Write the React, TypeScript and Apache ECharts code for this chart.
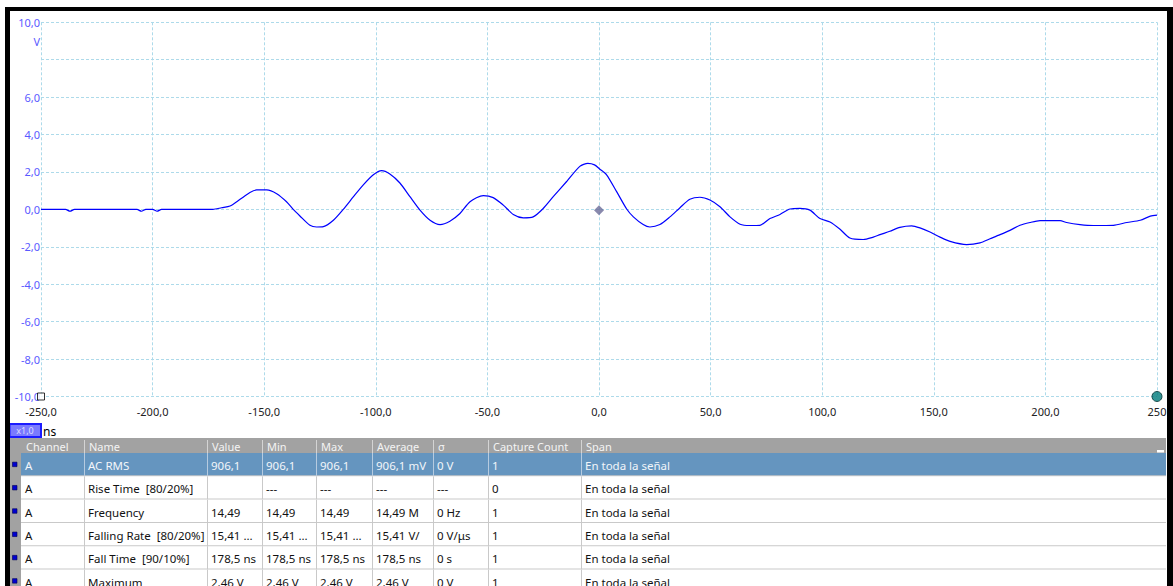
import React, { useEffect, useRef } from "react";
import * as echarts from "echarts";

// ---- waveform (time in ns, voltage in V) ----
const timeNs = [
  -250, -239, -237, -235, -207, -205, -203, -200, -198, -196, -173, -169.1, -165.3, -160.8, -156.4, -153.4,
  -148.9, -144.4, -140, -137, -134, -129.5, -126.5, -123.5, -119, -114.6, -110, -105.6, -101.1, -97.4,
  -93.7, -89.2, -84.7, -80.2, -75.7, -71.2, -66.8, -62.3, -57.8, -51.8, -47.4, -42.9, -38.4, -33.9,
  -29.5, -25, -20.5, -14.5, -8.6, -5, -2, 0.4, 3.4, 7.9, 12.4, 15.4, 19.8, 22.8, 27.3, 31.8, 36.3,
  40.7, 45.2, 49.7, 54.2, 58.7, 63.2, 67.6, 72.1, 76.6, 81.1, 85.6, 90, 94.5, 99, 103.5, 108, 112.4,
  118.4, 122.9, 125.9, 130.3, 134.8, 140.1, 143.8, 148.3, 152.8, 157.3, 164.7, 170.7, 175.2, 179.7,
  184.1, 188.6, 193.1, 197.6, 206.6, 209.5, 215.5, 221.5, 230.5, 236.5, 242.5, 247, 250,
];
const voltsV = [
  0, 0, -0.1, 0, 0, -0.1, 0, 0, -0.1, 0, 0, 0.09, 0.18, 0.54, 0.9, 1.04,
  1.04, 0.84, 0.41, 0.0, -0.35, -0.85, -0.94, -0.92, -0.58, 0.0, 0.68, 1.31, 1.85, 2.07,
  1.89, 1.41, 0.68, -0.04, -0.58, -0.81, -0.63, -0.22, 0.41, 0.74, 0.63, 0.23, -0.27, -0.45,
  -0.4, 0.05, 0.68, 1.49, 2.3, 2.46, 2.38, 2.15, 1.85, 0.95, 0.02, -0.4, -0.81, -0.94, -0.81, -0.4, 0.09,
  0.54, 0.65, 0.5, 0.14, -0.4, -0.79, -0.86, -0.85, -0.49, -0.27, 0.02, 0.05, -0.04, -0.49, -0.67, -1.06, -1.53,
  -1.61, -1.48, -1.35, -1.17, -0.96, -0.88, -0.99, -1.21, -1.48, -1.71, -1.88, -1.79, -1.57, -1.35,
  -1.12, -0.85, -0.7, -0.6, -0.6, -0.7, -0.81, -0.86, -0.85, -0.7, -0.58, -0.36, -0.31,
];
const triggerPoint = [0, -0.05];
const startMarker = [-250, -10];
const endMarker = [250, -10];

// ---- axis ticks ----
const xTickValues = [-250, -200, -150, -100, -50, 0, 50, 100, 150, 200, 250];
const xTickLabels = ["-250,0", "-200,0", "-150,0", "-100,0", "-50,0", "0,0", "50,0", "100,0", "150,0", "200,0", "250"];
const yTickValues = [-10, -8, -6, -4, -2, 0, 2, 4, 6, 8, 10];
const yTickLabels = ["-10,0", "-8,0", "-6,0", "-4,0", "-2,0", "0,0", "2,0", "4,0", "6,0", "", "10,0"];
const yUnit = "V";
const xUnit = "ns";
const zoomLabel = "x1,0";

// ---- measurement table ----
const tableColumns = ["Channel", "Name", "Value", "Min", "Max", "Average", "σ", "Capture Count", "Span"];
const rowChannel = ["A", "A", "A", "A", "A", "A"];
const rowName = ["AC RMS", "Rise Time  [80/20%]", "Frequency", "Falling Rate  [80/20%]", "Fall Time  [90/10%]", "Maximum"];
const rowValue = ["906,1", "", "14,49", "15,41 ...", "178,5 ns", "2,46 V"];
const rowMin = ["906,1", "---", "14,49", "15,41 ...", "178,5 ns", "2,46 V"];
const rowMax = ["906,1", "---", "14,49", "15,41 ...", "178,5 ns", "2,46 V"];
const rowAverage = ["906,1 mV", "---", "14,49 M", "15,41 V/", "178,5 ns", "2,46 V"];
const rowSigma = ["0 V", "---", "0 Hz", "0 V/μs", "0 s", "0 V"];
const rowCount = ["1", "0", "1", "1", "1", "1"];
const rowSpan = ["En toda la señal", "En toda la señal", "En toda la señal", "En toda la señal", "En toda la señal", "En toda la señal"];

const FONT = '"Noto Sans", "Open Sans", sans-serif';

export default function App() {
  const ref = useRef<HTMLDivElement>(null);

  useEffect(() => {
    if (!ref.current) return;
    const chart = echarts.init(ref.current, null, { renderer: "svg" });

    const W = 1173;
    const colX = [21, 84, 207, 262, 316, 372, 433, 488, 581, 1166];
    const headTop = 438;
    const headH = 15;
    const rowTop = 453;
    const rowH = 23.3;
    const columns = [rowChannel, rowName, rowValue, rowMin, rowMax, rowAverage, rowSigma, rowCount, rowSpan];

    const g: any[] = [];
    // frame
    g.push({ type: "rect", shape: { x: 5, y: 7, width: W - 5, height: 4 }, style: { fill: "#000" }, z: 100 });
    g.push({ type: "rect", shape: { x: 5, y: 7, width: 5, height: 586 }, style: { fill: "#000" }, z: 100 });
    g.push({ type: "rect", shape: { x: 1167, y: 7, width: 6, height: 586 }, style: { fill: "#000" }, z: 100 });

    // unit labels
    g.push({ type: "text", x: 40, y: 41, style: { text: yUnit, fill: "#5a5aff", fontSize: 11, fontFamily: FONT, align: "right", verticalAlign: "middle" } });
    g.push({ type: "rect", shape: { x: 9.5, y: 424, width: 31.5, height: 13 }, style: { fill: "#7a7aff", stroke: "#1c1cff", lineWidth: 2 } });
    g.push({ type: "text", x: 25, y: 430.5, style: { text: zoomLabel, fill: "#dcdcff", fontSize: 9, fontFamily: FONT, align: "center", verticalAlign: "middle" } });
    g.push({ type: "text", x: 43, y: 431, style: { text: xUnit, fill: "#000", fontSize: 12, fontFamily: FONT, align: "left", verticalAlign: "middle" } });

    // table header & strip
    g.push({ type: "rect", shape: { x: 10, y: headTop, width: 1156, height: headH }, style: { fill: "#a2a2a2" } });
    g.push({ type: "rect", shape: { x: 10, y: rowTop, width: 11, height: 200 }, style: { fill: "#a2a2a2" } });
    g.push({ type: "rect", shape: { x: 1157, y: 450, width: 7, height: 2.5 }, style: { fill: "#ffffff" } });
    tableColumns.forEach((c, i) => {
      g.push({ type: "text", x: colX[i] + 5, y: headTop + headH / 2 + 0.5, style: { text: c, fill: "#f4f4f4", fontSize: 11, fontFamily: FONT, align: "left", verticalAlign: "middle" } });
      if (i > 0) g.push({ type: "line", shape: { x1: colX[i] + 0.5, y1: headTop + 2, x2: colX[i] + 0.5, y2: headTop + headH }, style: { stroke: "#d4d4d4", lineWidth: 1 } });
    });

    // rows
    rowChannel.forEach((_, r) => {
      const top = rowTop + r * rowH;
      const sel = r === 0;
      g.push({ type: "rect", shape: { x: colX[0], y: top, width: colX[9] - colX[0], height: rowH }, style: { fill: sel ? "#6595bf" : "#ffffff" } });
      g.push({ type: "rect", shape: { x: colX[0], y: top + rowH - 1, width: colX[9] - colX[0], height: 2 }, style: { fill: "#c9c9c9" } });
      g.push({ type: "rect", shape: { x: 12.5, y: top + rowH / 2 - 2.5, width: 4.5, height: 4.5 }, style: { fill: "#0000d0", stroke: "#000050", lineWidth: 0.6 } });
      for (let c = 0; c < columns.length; c++) {
        if (c > 0) g.push({ type: "line", shape: { x1: colX[c] + 0.5, y1: top, x2: colX[c] + 0.5, y2: top + rowH }, style: { stroke: sel ? "#b6cbe0" : "#c9c9c9", lineWidth: 1 } });
        g.push({ type: "text", x: colX[c] + 4, y: top + rowH / 2 + 1, style: { text: columns[c][r], fill: sel ? "#f2f6fa" : "#111", fontSize: 11.5, fontFamily: FONT, align: "left", verticalAlign: "middle" } });
      }
    });

    chart.setOption({
      animation: false,
      backgroundColor: "#ffffff",
      grid: { left: 41, top: 22.3, width: 1116, height: 374.2, containLabel: false },
      xAxis: {
        type: "value",
        min: -250,
        max: 250,
        interval: 50,
        axisLine: { show: false },
        axisTick: { show: false },
        axisLabel: {
          margin: 9,
          color: "#222",
          fontSize: 11,
          fontFamily: FONT,
          formatter: (v: number) => {
            const i = xTickValues.indexOf(Math.round(v));
            return i >= 0 ? xTickLabels[i] : "";
          },
        },
        splitLine: { show: true, showMinLine: true, showMaxLine: true, lineStyle: { color: "#addaea", type: [3, 2], width: 1 } },
      },
      yAxis: {
        type: "value",
        min: -10,
        max: 10,
        interval: 2,
        axisLine: { show: false },
        axisTick: { show: false },
        axisLabel: {
          margin: 1,
          color: "#5a5aff",
          fontSize: 11,
          fontFamily: FONT,
          formatter: (v: number) => {
            const i = yTickValues.indexOf(Math.round(v));
            return i >= 0 ? yTickLabels[i] : "";
          },
        },
        splitLine: { show: true, showMinLine: true, showMaxLine: true, lineStyle: { color: "#addaea", type: [3, 2], width: 1 } },
      },
      series: [
        {
          type: "line",
          data: timeNs.map((t, i) => [t, voltsV[i]]),
          showSymbol: false,
          smooth: 0.25,
          lineStyle: { color: "#0000ff", width: 1.2 },
          silent: true,
          z: 3,
        },
        {
          type: "scatter",
          data: [triggerPoint],
          symbol: "diamond",
          symbolSize: [10, 10],
          itemStyle: { color: "#6b6b99" },
          z: 4,
        },
        {
          type: "scatter",
          data: [startMarker],
          symbol: "rect",
          symbolSize: 7,
          itemStyle: { color: "#ffffff", borderColor: "#000", borderWidth: 1 },
          z: 4,
        },
        {
          type: "scatter",
          data: [endMarker],
          symbol: "circle",
          symbolSize: 10,
          itemStyle: { color: "#007b7b", borderColor: "#003030", borderWidth: 1 },
          z: 4,
        },
      ],
      graphic: g,
    });

    return () => chart.dispose();
  }, []);

  return <div ref={ref} style={{ position: "fixed", left: 0, top: 0, width: 1173, height: 586 }} />;
}
